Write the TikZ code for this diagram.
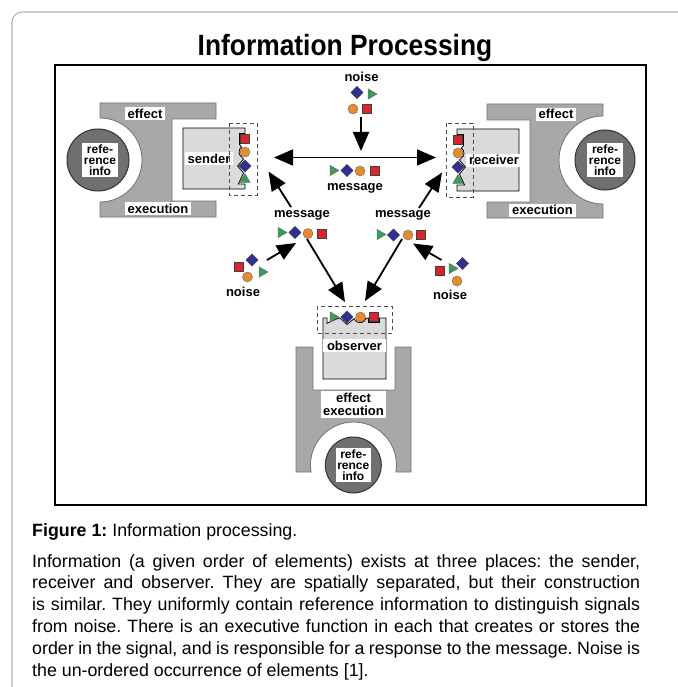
\documentclass[tikz,border=0pt]{standalone}
\usepackage{fontspec}
\setmainfont{Liberation Sans}
\newfontfamily\titlefont[FakeStretch=0.9]{Liberation Sans}
\usetikzlibrary{arrows.meta,shapes.geometric}
\definecolor{sigred}{HTML}{D8262C}
\definecolor{sigorange}{HTML}{E98B2D}
\definecolor{sigblue}{HTML}{2E3192}
\definecolor{siggreen}{HTML}{3C9B57}
\definecolor{unitgray}{HTML}{A8A8A8}
\definecolor{refgray}{HTML}{707070}
\definecolor{boxgray}{HTML}{DADADA}
\definecolor{framegray}{HTML}{B4B4B4}
\frenchspacing
\begin{document}
\begin{tikzpicture}[x=1pt,y=1pt,
  sq/.style={rectangle,draw=black!75,line width=0.5pt,fill=sigred,minimum size=9pt,inner sep=0pt},
  ci/.style={circle,draw=black!60,line width=0.4pt,fill=sigorange,minimum size=10pt,inner sep=0pt},
  di/.style={diamond,draw=black!75,line width=0.4pt,fill=sigblue,minimum size=12.5pt,inner sep=0pt},
  tr/.style={regular polygon,regular polygon sides=3,draw=black!60,line width=0.4pt,fill=siggreen,minimum size=12pt,inner sep=0pt,rotate=-90},
  tu/.style={regular polygon,regular polygon sides=3,draw=black!60,line width=0.4pt,fill=siggreen,minimum size=12pt,inner sep=0pt},
  unit/.style={fill=unitgray,draw=black!55,line width=0.8pt},
  refc/.style={circle,fill=refgray,draw=black!80,line width=1pt,inner sep=0pt},
  reflab/.style={fill=white,inner sep=1.5pt,align=center,font=\bfseries\fontsize{12}{11.2}\selectfont},
  lab/.style={fill=white,inner xsep=3pt,inner ysep=1.5pt,text height=9.5pt,text depth=0.5pt,font=\bfseries\fontsize{13}{14}\selectfont},
  plain/.style={inner sep=1pt,font=\bfseries\fontsize{13}{14}\selectfont},
  procbox/.style={fill=boxgray,draw=black,line width=0.8pt},
  dashbox/.style={draw=black!70,line width=0.8pt,dash pattern=on 4pt off 3pt},
  arr/.style={line width=1.8pt,-{Triangle[length=19pt,width=16pt]}},
  darr/.style={line width=1.8pt,{Triangle[length=19pt,width=16pt]}-{Triangle[length=19pt,width=16pt]}},
  capline/.style={anchor=base west,inner sep=0pt,font=\fontsize{17.8}{21.9}\selectfont}
]
\useasboundingbox (0,0) rectangle (677,-687);

% page frame and figure frame
\draw[framegray,line width=1.1pt,rounded corners=10pt] (12,-690) -- (12,-12) -- (680,-12);
\draw[black,line width=1.6pt] (55,-65) rectangle (646,-505);
\node[font=\titlefont\bfseries\fontsize{29.3}{32}\selectfont,anchor=base,inner sep=0pt] (title) at (345,-55.5) {Information Processing};

% ---------- sender ----------
\draw[unit] (100,-103) -- (216,-103) -- (216,-119) -- (172,-119) -- (172,-201) -- (216,-201)
  -- (216,-217) -- (100,-217) -- (100,-202) arc[start angle=-90,end angle=90,radius=42] -- cycle;
\node[refc,minimum size=62pt] (sref) at (98,-160) {};
\node[reflab] (sreflab) at (100,-160) {refe-\\rence\\info};
\node[lab] (seff) at (145,-114) {effect};
\node[lab] (sexe) at (158,-208.5) {execution};
\draw[procbox] (183,-128) -- (245,-128) -- (245,-133.5) -- (239.5,-133.5) -- (239.5,-144.5)
  -- (241.56,-147.08) arc[start angle=125,end angle=235,radius=6]
  -- (243.6,-159) -- (237.6,-166) -- (243.6,-173) -- (238.4,-184) -- (245,-184) -- (245,-189)
  -- (183,-189) -- cycle;
\node[lab] (slab) at (209,-159) {sender};
\draw[dashbox] (229,-123) rectangle (257,-195);
\node[sq] (ss1) at (245,-139) {};
\node[ci] (ss2) at (245,-152) {};
\node[di] (ss3) at (245,-166) {};
\node[tu] (ss4) at (245,-179.5) {};

% ---------- receiver ----------
\draw[unit] (603,-104) -- (487,-104) -- (487,-120) -- (530,-120) -- (530,-202) -- (487,-202)
  -- (487,-218) -- (603,-218) -- (603,-204) arc[start angle=270,end angle=90,radius=44] -- cycle;
\node[refc,minimum size=60pt] (rref) at (605,-160) {};
\node[reflab] (rreflab) at (605,-160) {refe-\\rence\\info};
\node[lab] (reff) at (556,-114.5) {effect};
\node[lab] (rexe) at (542.5,-210) {execution};
\draw[procbox] (457,-129) -- (457,-134.5) -- (463.5,-134.5) -- (463.5,-145.5)
  -- (461.44,-148.08) arc[start angle=55,end angle=-55,radius=6]
  -- (459.4,-160) -- (465.4,-167) -- (459.4,-174) -- (464.6,-185) -- (457,-185) -- (457,-191)
  -- (519,-191) -- (519,-129) -- cycle;
\node[lab] (rlab) at (494,-160.3) {receiver};
\draw[dashbox] (446,-123) rectangle (473,-197);
\node[sq] (rs1) at (458,-140) {};
\node[ci] (rs2) at (458,-153) {};
\node[di] (rs3) at (458,-167) {};
\node[tu] (rs4) at (458,-180.5) {};

% ---------- observer ----------
\draw[unit] (296,-347) -- (313,-347) -- (313,-390) -- (395,-390) -- (395,-347) -- (411,-347)
  -- (411,-472) -- (395.9,-472) arc[start angle=-9.37,end angle=189.37,radius=43] -- (296,-472) -- cycle;
\node[refc,minimum size=56pt] (oref) at (353.3,-465) {};
\node[reflab] (oreflab) at (353.3,-465) {refe-\\rence\\info};
\node[fill=white,inner sep=2pt,align=center,font=\bfseries\fontsize{13}{12.8}\selectfont] (oeff) at (353.5,-404.5) {effect\\execution};
\draw[procbox] (323,-318) -- (327,-318) -- (327,-323.2) -- (338.5,-318.2) -- (340,-318)
  -- (347,-324.4) -- (354.2,-318.6) arc[start angle=200,end angle=340,radius=6.2]
  -- (368.5,-318) -- (368.5,-322.5) -- (379.5,-322.5) -- (379.5,-318) -- (386,-318)
  -- (386,-379) -- (323,-379) -- cycle;
\node[lab,minimum width=63pt] (olab) at (354.5,-345.5) {observer};
\draw[dashbox] (317,-306) rectangle (392,-333);
\node[tr] (os1) at (333,-317) {};
\node[di] (os2) at (347,-317) {};
\node[ci] (os3) at (360.5,-317) {};
\node[sq] (os4) at (374,-317) {};

% ---------- noise and messages ----------
\node[plain] (ntop) at (361.5,-77) {noise};
\node[di] (nt1) at (357,-92.5) {};
\node[tr] (nt2) at (371,-94) {};
\node[ci] (nt3) at (353,-109) {};
\node[sq] (nt4) at (367,-109) {};

\node[tr] (mc1) at (333,-170.5) {};
\node[di] (mc2) at (347,-170.5) {};
\node[ci] (mc3) at (360,-171) {};
\node[sq] (mc4) at (375,-171) {};
\node[plain] (mc) at (355,-188) {message};

\node[plain] (ml) at (302,-215) {message};
\node[tr] (ml1) at (281,-232.5) {};
\node[di] (ml2) at (295,-232.5) {};
\node[ci] (ml3) at (308,-233.5) {};
\node[sq] (ml4) at (322,-233.5) {};

\node[plain] (mr) at (403,-215) {message};
\node[tr] (mr1) at (380,-234.5) {};
\node[di] (mr2) at (393.5,-235) {};
\node[ci] (mr3) at (408,-235) {};
\node[sq] (mr4) at (421,-235) {};

\node[di] (nl1) at (252,-260) {};
\node[sq] (nl2) at (238.5,-267) {};
\node[tr] (nl3) at (262,-272) {};
\node[ci] (nl4) at (247.5,-277) {};
\node[plain] (nl) at (243,-292) {noise};

\node[di] (nr1) at (462.5,-263.5) {};
\node[tr] (nr2) at (452,-268.5) {};
\node[sq] (nr3) at (440,-271) {};
\node[ci] (nr4) at (457,-281) {};
\node[plain] (nr) at (450,-295) {noise};

% ---------- connectors ----------
\coordinate (a1s) at (361,-117);   \coordinate (a1e) at (361,-151);
\coordinate (a2s) at (274,-157.5); \coordinate (a2e) at (436,-157.5);
\coordinate (a3s) at (291,-207);   \coordinate (a3e) at (268.5,-171.5);
\coordinate (a4s) at (419,-208);   \coordinate (a4e) at (442,-172.5);
\coordinate (a5s) at (267,-260);   \coordinate (a5e) at (296,-243);
\coordinate (a6s) at (441.5,-260); \coordinate (a6e) at (413,-243.5);
\coordinate (a7s) at (307,-239);   \coordinate (a7e) at (345,-302);
\coordinate (a8s) at (402,-239);   \coordinate (a8e) at (365,-301);
\draw[arr] (a1s) -- (a1e);
\draw[darr] (a2s) -- (a2e);
\draw[arr] (a3s) -- (a3e);
\draw[arr] (a4s) -- (a4e);
\draw[arr] (a5s) -- (a5e);
\draw[arr] (a6s) -- (a6e);
\draw[arr] (a7s) -- (a7e);
\draw[arr] (a8s) -- (a8e);

% ---------- caption ----------
\node[capline] (cap0) at (32,-536.5) {\textbf{Figure 1:} Information processing.};
\node[capline] (cap1) at (32,-567) {\makebox[608pt][s]{Information (a given order of elements) exists at three places: the sender,}};
\node[capline] (cap2) at (32,-588.9) {\makebox[608pt][s]{receiver and observer. They are spatially separated, but their construction}};
\node[capline] (cap3) at (32,-610.8) {\makebox[608pt][s]{is similar. They uniformly contain reference information to distinguish signals}};
\node[capline] (cap4) at (32,-632.7) {\makebox[608pt][s]{from noise. There is an executive function in each that creates or stores the}};
\node[capline] (cap5) at (32,-654.6) {\makebox[608pt][s]{order in the signal, and is responsible for a response to the message. Noise is}};
\node[capline] (cap6) at (32,-676.5) {the un-ordered occurrence of elements [1].};
\end{tikzpicture}
\end{document}
